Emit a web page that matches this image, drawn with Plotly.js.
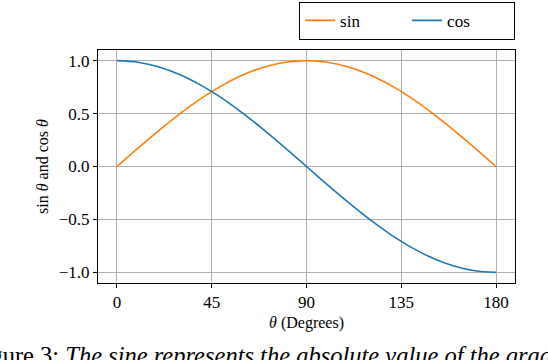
<!DOCTYPE html>
<html>
<head>
<meta charset="utf-8">
<script src="https://cdn.plot.ly/plotly-3.0.1.min.js"></script>
<style>
  html, body { margin: 0; padding: 0; background: #fff; }
  #chart { width: 548px; height: 360px; }
</style>
</head>
<body>
<div id="chart"></div>
<script>
// angles in degrees and values
const theta = [0, 10, 20, 30, 40, 45, 50, 60, 70, 80, 90, 100, 110, 120, 130, 135, 140, 150, 160, 170, 180];
const sinVals = [0, 0.174, 0.342, 0.5, 0.643, 0.707, 0.766, 0.866, 0.94, 0.985, 1, 0.985, 0.94, 0.866, 0.766, 0.707, 0.643, 0.5, 0.342, 0.174, 0];
const cosVals = [1, 0.985, 0.94, 0.866, 0.766, 0.707, 0.643, 0.5, 0.342, 0.174, 0, -0.174, -0.342, -0.5, -0.643, -0.707, -0.766, -0.866, -0.94, -0.985, -1];
const xTicks = [0, 45, 90, 135, 180];
const yTicks = [-1, -0.5, 0, 0.5, 1];
const yTickText = ['\u22121.0', '\u22120.5', '0.0', '0.5', '1.0'];

const serif = 'Liberation Serif, serif';

const data = [
    {
        x: theta, y: sinVals, name: 'sin', mode: 'lines',
        line: { color: '#ff7f0e', width: 1.6, shape: 'spline' }
    },
    {
        x: theta, y: cosVals, name: 'cos', mode: 'lines',
        line: { color: '#1f77b4', width: 1.6, shape: 'spline' }
    }
];

const axisCommon = {
    showline: true, linecolor: '#000', linewidth: 1, mirror: true,
    ticks: 'outside', ticklen: 4, tickcolor: '#000', tickwidth: 1,
    showgrid: true, gridcolor: '#b0b0b0', gridwidth: 1,
    zeroline: false,
    automargin: false,
    tickfont: { family: serif, size: 17, color: '#000' }
};

const layout = {
    width: 548, height: 360,
    margin: { l: 98, r: 33, t: 50, b: 77 },
    paper_bgcolor: '#fff', plot_bgcolor: '#fff',
    font: { family: serif, color: '#000' },
    showlegend: true,
    legend: {
        orientation: 'h', xref: 'container', yref: 'container',
        x: 0.94, xanchor: 'right', y: 0.995, yanchor: 'top',
        bordercolor: '#000', borderwidth: 1,
        font: { family: serif, size: 17, color: '#000' },
        entrywidth: 62, entrywidthmode: 'pixels'
    },
    xaxis: Object.assign({}, axisCommon, {
        range: [-9, 189], tickvals: xTicks,
        title: { text: '<i>θ</i> (Degrees)', font: { family: serif, size: 16 }, standoff: 5 }
    }),
    yaxis: Object.assign({}, axisCommon, {
        range: [-1.1, 1.1], tickvals: yTicks, ticktext: yTickText,
        title: { text: 'sin <i>θ</i> and cos <i>θ</i>', font: { family: serif, size: 16 }, standoff: 6 }
    }),
    annotations: [{
        xref: 'paper', yref: 'paper', x: -0.312, y: -0.245, xanchor: 'left', yanchor: 'top',
        showarrow: false,
        text: 'Figure 3: <i>The sine represents the absolute value of the gradient</i>',
        font: { family: serif, size: 24.5, color: '#000' }
    }]
};

Plotly.newPlot('chart', data, layout, { staticPlot: true });
</script>
</body>
</html>
